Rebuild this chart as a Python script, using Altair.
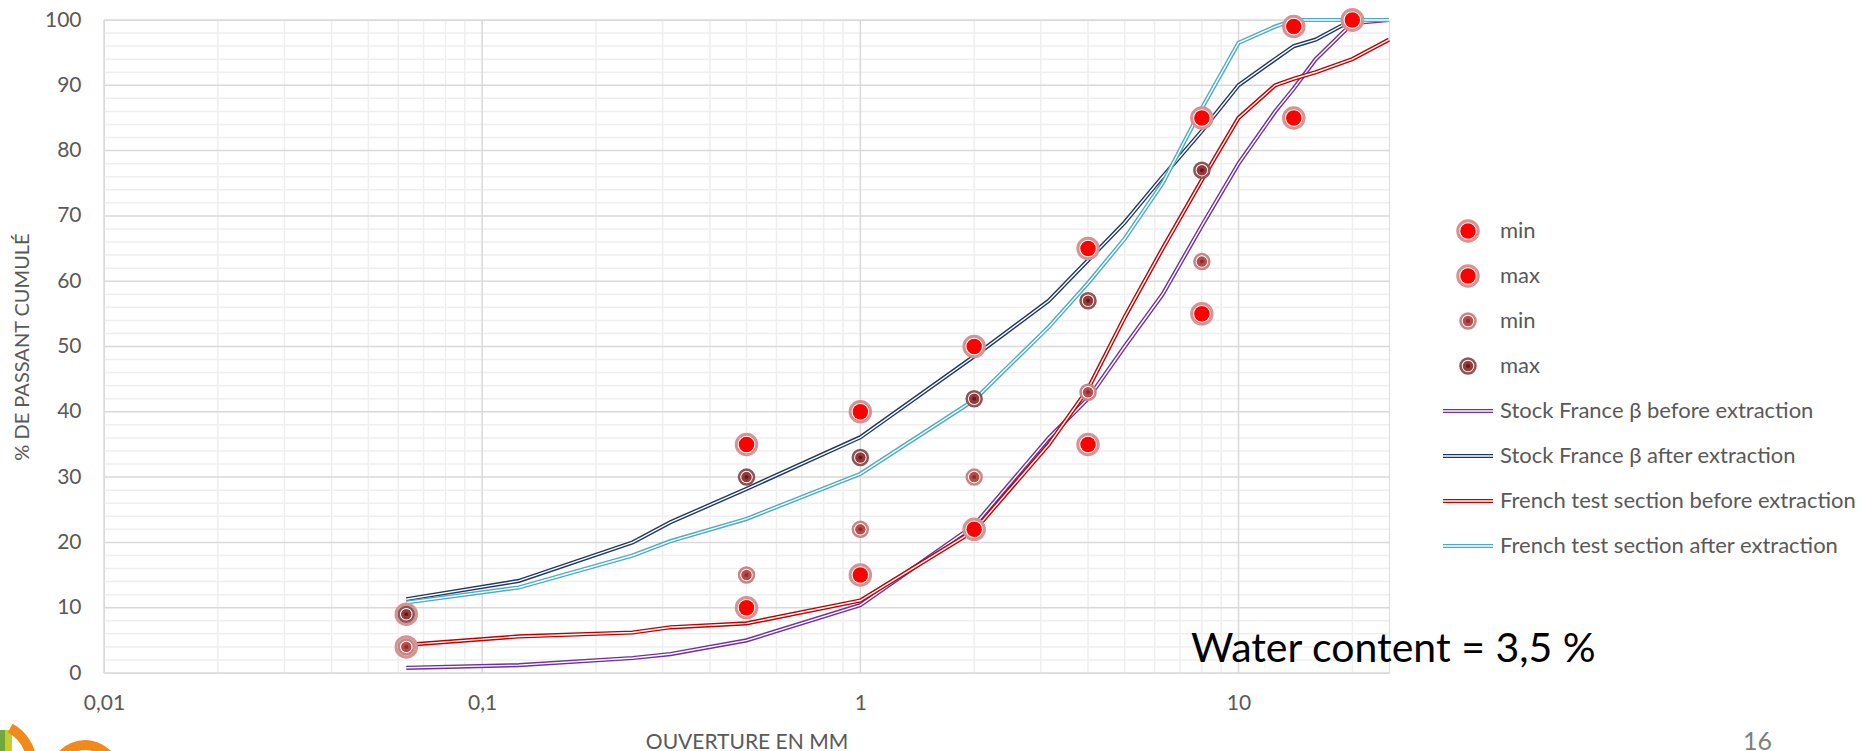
import altair as alt
import pandas as pd

# Sieve openings (mm) used for the four grading curves
sieves = [0.063, 0.125, 0.25, 0.315, 0.5, 1, 2, 3.15, 4, 5, 6.3, 8, 10, 12.5, 14, 16, 20, 25]

# Cumulative % passing for each curve
stock_before = [0.8, 1.2, 2.3, 2.9, 5.0, 10.4, 22.6, 36.0, 42.0, 50.0, 58.0, 68.5, 78.0, 86.0, 89.5, 94.0, 99.5, 100]
stock_after = [11.3, 14.1, 20.0, 23.1, 28.2, 36.1, 48.5, 57.0, 63.2, 69.0, 76.0, 83.0, 90.0, 94.0, 96.0, 97.0, 100, 100]
french_before = [4.3, 5.6, 6.2, 7.0, 7.6, 11.1, 21.8, 35.0, 43.5, 54.5, 65.0, 75.5, 85.0, 90.0, 91.0, 92.0, 94.0, 97.0]
french_after = [10.8, 13.1, 18.0, 20.2, 23.6, 30.5, 41.8, 53.0, 59.7, 66.5, 75.0, 86.5, 96.5, 99.0, 100, 100, 100, 100]

# Specification envelopes (large markers) and inner envelopes (small markers)
spec_sieves = [0.063, 0.5, 1, 2, 4, 8, 14, 20]
spec_min = [4, 10, 15, 22, 35, 55, 85, 100]
spec_max = [9, 35, 40, 50, 65, 85, 99, 100]
inner_sieves = [0.063, 0.5, 1, 2, 4, 8]
inner_min = [4, 15, 22, 30, 43, 63]
inner_max = [9, 30, 33, 42, 57, 77]

curve_names = [
    "Stock France β before extraction",
    "Stock France β after extraction",
    "French test section before extraction",
    "French test section after extraction",
]
curve_colors = ["#7030a0", "#1f3864", "#c00000", "#4bacc6"]

W, H = 1285, 653
FONT = "Lato"
GREY = "#595959"

xs = alt.Scale(type="log", domain=[0.01, 25], nice=False)
ys = alt.Scale(domain=[0, 100], nice=False)

major_x = [0.01, 0.1, 1, 10]
minor_x = [round(m * d, 4) for d in major_x for m in range(2, 10) if m * d <= 25]
major_y = list(range(0, 101, 10))
minor_y = [v for v in range(2, 100, 2) if v % 10]

# one axis definition per channel, shared by every layer
AX_X = alt.Axis(
    title="OUVERTURE EN MM", values=major_x, grid=False, domain=False, ticks=False,
    labelExpr="replace(toString(datum.value), '.', ',')",
    labelFont=FONT, labelFontSize=21, labelColor=GREY, labelPadding=30,
    labelBaseline="middle", labelFlush=False, labelOverlap=False,
    titleFont=FONT, titleFontSize=21, titleFontWeight="normal", titleColor=GREY,
    titleX=W / 2, titleY=69, titleAlign="center", titleBaseline="middle",
)
AX_Y = alt.Axis(
    title="% DE PASSANT CUMULÉ", values=major_y, grid=False, domain=False, ticks=False,
    labelFont=FONT, labelFontSize=21, labelColor=GREY, labelPadding=23,
    labelFlush=False, labelOverlap=False,
    titleFont=FONT, titleFontSize=20, titleFontWeight="normal", titleColor=GREY,
    titleX=-82, titleY=H / 2, titleAngle=-90, titleAlign="center", titleBaseline="middle",
)


def X(field="x"):
    return alt.X(f"{field}:Q", scale=xs, axis=AX_X)


def Y(field="y"):
    return alt.Y(f"{field}:Q", scale=ys, axis=AX_Y)


layers = []

# grid
layers.append(alt.Chart(pd.DataFrame({"x": minor_x})).mark_rule(color="#efefef", strokeWidth=1.5).encode(x=X()))
layers.append(alt.Chart(pd.DataFrame({"y": minor_y})).mark_rule(color="#efefef", strokeWidth=1.5).encode(y=Y()))
layers.append(alt.Chart(pd.DataFrame({"x": major_x})).mark_rule(color="#d9d9d9", strokeWidth=1.5).encode(x=X()))
layers.append(alt.Chart(pd.DataFrame({"y": major_y})).mark_rule(color="#d9d9d9", strokeWidth=1.5).encode(y=Y()))

# grading curves drawn as double lines
for name, vals, col in zip(curve_names, [stock_before, stock_after, french_before, french_after], curve_colors):
    df = pd.DataFrame({"x": sieves, "y": vals, "serie": name})
    layers.append(alt.Chart(df).mark_line(color=col, strokeWidth=4.2).encode(x=X(), y=Y()))
    layers.append(alt.Chart(df).mark_line(color="white", strokeWidth=1.4).encode(x=X(), y=Y()))

# marker styles: concentric circles (diameter, fill, stroke, strokeWidth)
BIG = [(20.5, "white", "#d99191", 3.0), (15.5, "#ff0000", None, 0)]
SMALL_MIN = [(15, "white", "#c98585", 2.5), (10.5, "#b84a4a", None, 0), (4, "#8f2d2d", None, 0)]
SMALL_MAX = [(15, "white", "#8d5555", 2.5), (10.5, "#983838", None, 0), (4, "#651a1a", None, 0)]


def circle_props(d, fill, stroke, sw):
    kw = dict(size=d * d, fill=fill, opacity=1)
    if stroke:
        kw.update(stroke=stroke, strokeWidth=sw)
    else:
        kw.update(strokeWidth=0)
    return kw


def markers(xv, yv, style):
    df = pd.DataFrame({"x": xv, "y": yv})
    return [alt.Chart(df).mark_circle(**circle_props(*s)).encode(x=X(), y=Y()) for s in style]


layers += markers(spec_sieves, spec_min, BIG)
layers += markers(spec_sieves, spec_max, BIG)
layers += markers(inner_sieves, inner_min, SMALL_MIN)
layers += markers(inner_sieves, inner_max, SMALL_MAX)

# legend, to the right of the plot
anchor = pd.DataFrame({"k": [0]})
LEG_Y0, LEG_DY = 211, 45
LEG_SYM_X, LEG_LINE_X0, LEG_LINE_X1, LEG_TEXT_X = 1364, 1339, 1389, 1396
legend_labels = ["min", "max", "min", "max"] + curve_names
legend_styles = [BIG, BIG, SMALL_MIN, SMALL_MAX]
for i, lab in enumerate(legend_labels):
    yy = LEG_Y0 + i * LEG_DY
    if i < 4:
        for s in legend_styles[i]:
            layers.append(alt.Chart(anchor).mark_circle(**circle_props(*s))
                          .encode(x=alt.value(LEG_SYM_X), y=alt.value(yy)))
    else:
        col = curve_colors[i - 4]
        for c, sw in [(col, 4.2), ("white", 1.4)]:
            layers.append(alt.Chart(anchor).mark_rule(color=c, strokeWidth=sw)
                          .encode(x=alt.value(LEG_LINE_X0), x2=alt.value(LEG_LINE_X1), y=alt.value(yy)))
    layers.append(alt.Chart(anchor).mark_text(
        text=lab, font=FONT, fontSize=22, color=GREY, align="left", baseline="middle")
        .encode(x=alt.value(LEG_TEXT_X), y=alt.value(yy)))

# annotation
layers.append(alt.Chart(anchor).mark_text(
    text="Water content = 3,5 %", font=FONT, fontSize=41, color="black", align="left",
    baseline="alphabetic").encode(x=alt.value(1087), y=alt.value(642)))

# slide page number
layers.append(alt.Chart(anchor).mark_text(
    text="16", font=FONT, fontSize=25, color="#7f7f7f", align="left", baseline="top")
    .encode(x=alt.value(1639), y=alt.value(710)))

# logo fragment in the lower-left corner
layers.append(alt.Chart(anchor).mark_rect(color="#6fa83e")
              .encode(x=alt.value(-104), x2=alt.value(-99), y=alt.value(710), y2=alt.value(731)))
layers.append(alt.Chart(anchor).mark_rect(color="#c3cf2c")
              .encode(x=alt.value(-99), x2=alt.value(-92), y=alt.value(710), y2=alt.value(731)))
layers.append(alt.Chart(anchor).mark_arc(radius=47, radius2=37, theta=0.5, theta2=1.4, color="#f08a1c")
              .encode(x=alt.value(-114), y=alt.value(745)))
layers.append(alt.Chart(anchor).mark_arc(radius=36, radius2=26, theta=4.68, theta2=7.08, color="#f08a1c")
              .encode(x=alt.value(-19), y=alt.value(756)))

chart = alt.layer(*layers).properties(
    width=W,
    height=H,
    autosize=alt.AutoSizeParams(type="none"),
    padding={"left": 104, "top": 20, "right": 1864 - 104 - W, "bottom": 751 - 20 - H},
).configure_view(stroke=None).configure(font=FONT)

chart.save("out.html", embed_options={"renderer": "svg", "actions": False})
